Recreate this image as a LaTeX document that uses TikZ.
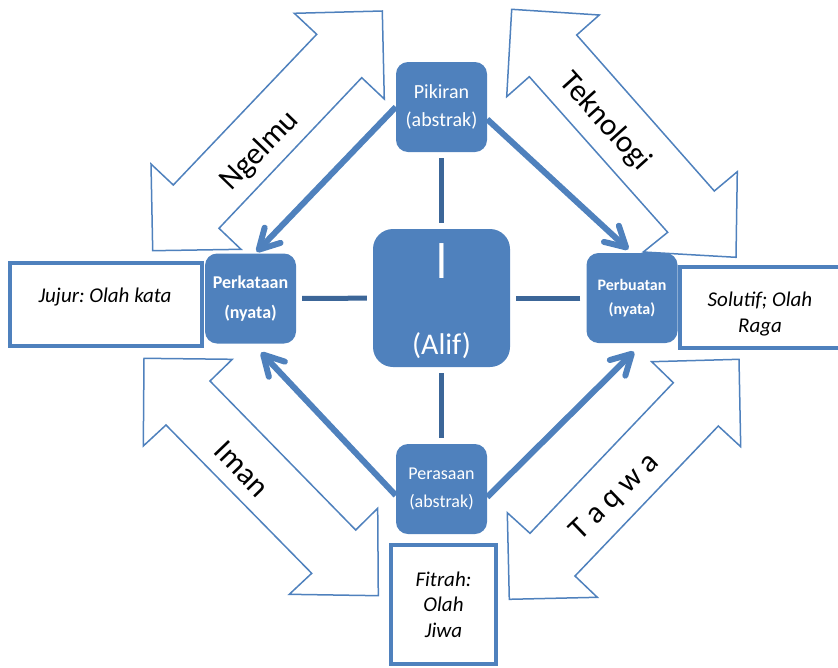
\documentclass[tikz,border=0pt]{standalone}
\usepackage{fontspec}
\setmainfont{Carlito}
\newfontfamily\arabicfont[Script=Arabic]{DejaVu Sans}
\TeXXeTstate=1
\frenchspacing
\usepackage{xcolor}
\usetikzlibrary{arrows.meta}
\definecolor{boxblue}{HTML}{4F81BD}
\definecolor{linkblue}{HTML}{3C6698}

\begin{document}
\begin{tikzpicture}[x=1pt, y=-1pt,
    box/.style={fill=boxblue, rounded corners=12pt, minimum width=91pt, minimum height=90pt, inner sep=0pt, text=white, align=center},
    frame/.style={draw=boxblue, line width=4.3pt},
    note/.style={font=\fontsize{21}{25.5}\selectfont\itshape, align=center},
    twoway/.style={draw=boxblue, fill=white, line width=1.5pt},
    arrowtext/.style={font=\fontsize{31}{36}\selectfont},
    thrust/.style={draw=boxblue, line width=6pt, -{Straight Barb[round, length=20pt, width=22pt]}},
    link/.style={draw=linkblue, line width=5pt, shorten <=6pt, shorten >=6pt}]
    \useasboundingbox (0,0) rectangle (838,667);
    \clip (0,0) rectangle (838,667);

    % Double arrows
    \draw[twoway] (294.3,13.3) -- (382.3,11) -- (384.3,99) -- (361.7,77.7) -- (219,228.3) -- (241,249.3) -- (152.7,250.7) -- (151,164) -- (173.3,185) -- (316.7,34.3) -- cycle;
    \draw[twoway] (511.7,9.3) -- (599.3,15) -- (576.7,35) -- (714.3,191) -- (737.3,171.7) -- (736,257.3) -- (643.3,252) -- (667.7,232.3) -- (529.3,76.7) -- (506.7,96.7) -- cycle;
    \draw[twoway] (144,358.3) -- (232.3,359.3) -- (210,381) -- (355.7,530) -- (377.7,508.3) -- (378.3,595.7) -- (289.3,594.3) -- (311.7,573.3) -- (166,425) -- (143.3,446) -- cycle;
    \draw[twoway] (651.7,361.7) -- (739,359.3) -- (740.7,446.7) -- (718.3,426) -- (575,576) -- (597.3,597.3) -- (509.3,599.3) -- (507.3,512.7) -- (530,533.3) -- (673.3,382.7) -- cycle;

    \node[arrowtext, rotate=46] (ngelmu) at (260,151) {Ngelmu};
    \node[arrowtext, rotate=-48] (teknologi) at (605,122) {Teknologi};
    \node[arrowtext, rotate=-46] (iman) at (242,469) {Iman};
    \node[arrowtext, rotate=44] (taqwa) at (615,497) {T a q w a};

    % Boxes
    \node[box, font=\fontsize{20}{28}\selectfont] (pikiran) at (441.5,107) {Pikiran\\(abstrak)};
    \node[box, font=\fontsize{18}{28}\selectfont] (perasaan) at (441.5,489) {Perasaan\\(abstrak)};
    \node[box, font=\bfseries\fontsize{18}{30}\selectfont] (perkataan) at (250.5,298.5) {Perkataan\\(nyata)};
    \node[box, font=\bfseries\fontsize{16}{24}\selectfont] (perbuatan) at (632,298) {Perbuatan\\(nyata)};
    \node[box, minimum width=137pt, minimum height=138pt, rounded corners=20pt] (alif) at (441.5,298) {};
    \node[text=white, font=\arabicfont\fontsize{46}{46}\selectfont] (alifchar) at (441.5,261) {\beginR ا\endR};
    \node[text=white, font=\fontsize{30}{36}\selectfont] (alifname) at (441.5,346) {(Alif)};

    % Links to the centre
    \draw[link] (pikiran) -- (alif);
    \draw[link] (perasaan) -- (alif);
    \draw[link] (perkataan) -- (alif);
    \draw[link] (perbuatan) -- (alif);

    % Thick arrows
    \draw[thrust, shorten >=2pt] (pikiran.west) -- (perkataan.84);
    \draw[thrust, shorten >=5pt] (pikiran.-15) -- (perbuatan.north);
    \draw[thrust, shorten >=12pt] (perasaan.188) -- (perkataan.-87);
    \draw[thrust, shorten >=12pt] (perasaan.-10) -- (perbuatan.-77);

    % Notes
    \draw[frame] (10,263) rectangle (202,346);
    \node[note] (jujur) at (105,297) {Jujur: Olah kata};
    \draw[frame] (679.7,267) rectangle (860,348);
    \node[note] (solutif) at (760,314) {Solutif; Olah\\Raga};
    \node[frame, note, minimum width=105pt, minimum height=119pt] (fitrah) at (443.5,604.5) {Fitrah:\\Olah\\Jiwa};

\end{tikzpicture}
\end{document}
